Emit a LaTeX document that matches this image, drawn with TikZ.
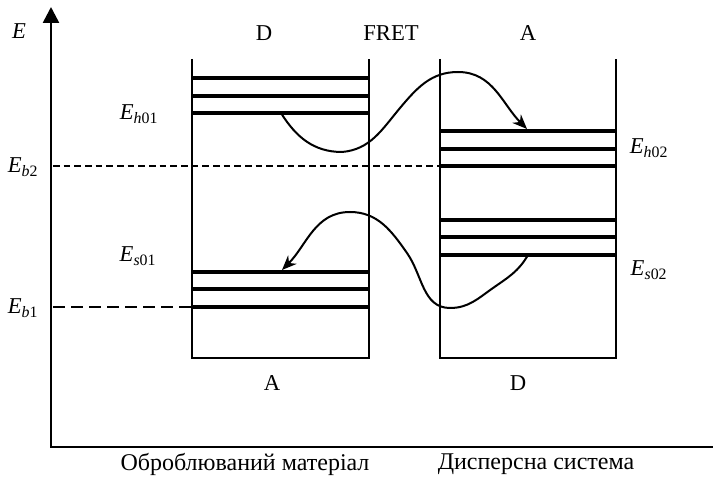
\documentclass[tikz,border=0pt]{standalone}
\usepackage{fontspec}
\setmainfont{Liberation Serif}
\usetikzlibrary{arrows.meta, positioning}
\tikzset{
  % Energy axes
  axis/.style={line width=1.9pt, -{Triangle[length=12pt,width=12pt]}},
  % Walls of the two phases
  wall/.style={line width=1.5pt},
  % Energy sublevels
  level/.style={line width=3pt},
  % Dashed reference levels
  guide/.style={line width=1.1pt, dash pattern=on 5pt off 3pt},
  guide long/.style={line width=1.1pt, dash pattern=on 9pt off 4.5pt},
  % Transfer arrows
  transfer/.style={line width=1.5pt, -{Stealth[length=11pt,width=9pt]}},
  % Text labels
  lbl/.style={font=\fontsize{17}{20}\selectfont, inner sep=1pt},
  caption/.style={font=\fontsize{18}{21}\selectfont, inner sep=1pt},
}
\newcommand{\elev}[2]{\textit{E}\textsubscript{\textit{#1}#2}}

\begin{document}
\begin{tikzpicture}[x=0.75pt, y=0.75pt]
  \useasboundingbox (0,0) rectangle (713,478);

  %% Axes
  \draw[axis] (713,31) -- (51,31) -- (51,471);
  \node[lbl] (eaxis) at (19,447) {\textit{E}};

  %% Phase walls
  \draw[wall] (192,419) -- (192,120) -- (369,120) -- (369,419);
  \draw[wall] (440,419) -- (440,120) -- (616,120) -- (616,419);

  %% Sublevels
  \foreach \y in {400,382,365,206,189,171}
    \draw[level] (192,\y) -- (369,\y);
  \foreach \y in {347,329,312,258,241,223}
    \draw[level] (440,\y) -- (616,\y);

  %% Reference levels
  \draw[guide] (53,312) -- (440,312);
  \draw[guide long] (53,171) -- (192,171);

  %% Level labels
  \node[lbl] (eb2) at (23,311) {\elev{b}{2}};
  \node[lbl] (eb1) at (23,170) {\elev{b}{1}};
  \node[lbl] (eh01) at (139,364) {\elev{h}{01}};
  \node[lbl] (es01) at (138,222) {\elev{s}{01}};
  \node[lbl] (eh02) at (649,330) {\elev{h}{02}};
  \node[lbl] (es02) at (649,208) {\elev{s}{02}};

  %% Phase labels
  \node[lbl] (donortop) at (264,445) {D};
  \node[lbl] (fret) at (391,445) {FRET};
  \node[lbl] (acctop) at (528,445) {A};
  \node[lbl] (accbot) at (272,95) {A};
  \node[lbl] (donorbot) at (518,95) {D};
  \node[caption] (material) at (245,14) {Оброблюваний матеріал};
  \node[caption] (disperse) at (536,14) {Дисперсна система};

  %% Transfer paths
  \coordinate (c1a) at (281,365);
  \coordinate (c1b) at (342,326);
  \coordinate (c1c) at (400,370);
  \coordinate (c1d) at (458,406);
  \coordinate (c1e) at (527,349);
  \draw[transfer] (c1a) to[out=-58,in=180] (c1b) to[out=5,in=230] (c1c)
    to[out=50,in=180] (c1d) to[out=0,in=135] (c1e);

  \coordinate (c2a) at (528,223);
  \coordinate (c2b) at (493,190);
  \coordinate (c2c) at (450,170);
  \coordinate (c2d) at (407,225);
  \coordinate (c2e) at (350,266);
  \coordinate (c2f) at (282,208);
  \draw[transfer] (c2a) to[out=-120,in=35] (c2b) to[out=215,in=0] (c2c)
    to[out=180,in=-55] (c2d) to[out=125,in=0] (c2e) to[out=180,in=45] (c2f);

\end{tikzpicture}
\end{document}
